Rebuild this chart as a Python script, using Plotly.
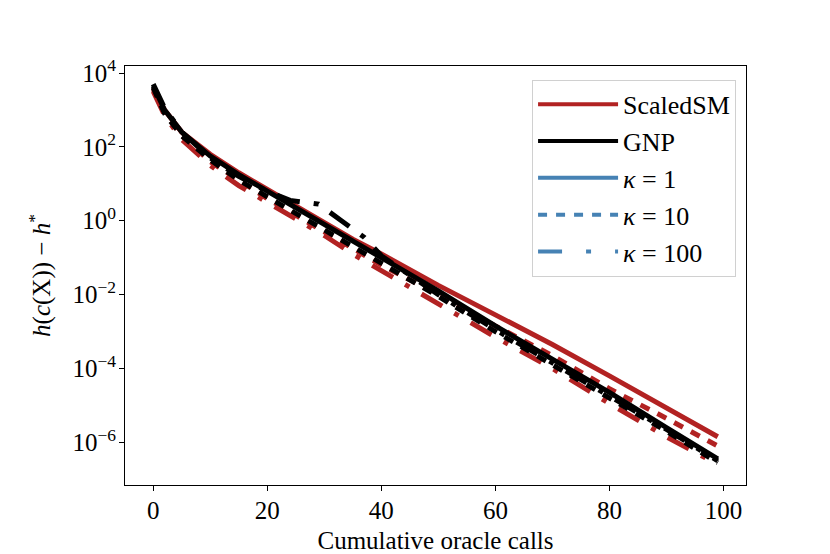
import plotly.graph_objects as go

# oracle calls at which values were read
calls = [0, 2, 5, 10, 15, 20, 25, 30, 35, 40, 50, 60, 70, 80, 90, 99]
calls_gnp100 = [0, 2, 5, 10, 15, 20, 24, 29, 33, 37, 40, 50, 60, 70, 80, 90, 99]

# log10(h(c(X)) - h*)
scaled_k1 = [3.55, 3.0, 2.4, 1.8, 1.3, 0.85, 0.4, -0.05, -0.5, -0.9, -1.75, -2.55, -3.35, -4.2, -5.05, -5.85]
scaled_k10 = [3.6, 2.95, 2.3, 1.6, 1.1, 0.6, 0.15, -0.3, -0.75, -1.2, -2.0, -2.85, -3.65, -4.55, -5.35, -6.1]
scaled_k100 = [3.5, 2.85, 2.2, 1.5, 0.95, 0.5, 0.05, -0.4, -0.9, -1.35, -2.25, -3.15, -4.0, -4.95, -5.85, -6.6]
gnp_k1 = [3.65, 3.0, 2.4, 1.75, 1.25, 0.8, 0.35, -0.1, -0.55, -1.0, -1.9, -2.85, -3.75, -4.65, -5.6, -6.45]
gnp_k10 = [3.6, 2.9, 2.3, 1.65, 1.1, 0.65, 0.2, -0.25, -0.7, -1.15, -2.05, -3.0, -3.9, -4.8, -5.7, -6.55]
gnp_k100 = [3.7, 3.05, 2.4, 1.7, 1.2, 0.8, 0.55, 0.45, 0.0, -0.45, -0.95, -2.0, -2.95, -3.85, -4.75, -5.65, -6.5]

RED = "#B22222"
BLACK = "#000000"
BLUE = "#4682B4"
DASHES = {1: "solid", 10: "10px,9px", 100: "24px,14px,5px,14px"}
FONT = "Liberation Serif, DejaVu Serif, serif"
FS = 25

series = [
    ("ScaledSM", 1, calls, scaled_k1, RED),
    ("ScaledSM", 10, calls, scaled_k10, RED),
    ("ScaledSM", 100, calls, scaled_k100, RED),
    ("GNP", 1, calls, gnp_k1, BLACK),
    ("GNP", 10, calls, gnp_k10, BLACK),
    ("GNP", 100, calls_gnp100, gnp_k100, BLACK),
]

fig = go.Figure()
for name, kappa, xs, logs, color in series:
    fig.add_trace(go.Scatter(
        x=xs, y=[10 ** v for v in logs],
        mode="lines", showlegend=False,
        line=dict(color=color, width=5, dash=DASHES[kappa]),
    ))

# legend-only entries
legend_items = [
    ("ScaledSM", RED, "solid"),
    ("GNP", BLACK, "solid"),
    ("<i>κ</i> = 1", BLUE, DASHES[1]),
    ("<i>κ</i> = 10", BLUE, "9px,9px"),
    ("<i>κ</i> = 100", BLUE, "24px,24px,5px,24px"),
]
for i, (label, color, dash) in enumerate(legend_items):
    fig.add_trace(go.Scatter(
        x=[None], y=[None], mode="lines", name=label,
        legendgroup=f"g{i}",
        line=dict(color=color, width=4, dash=dash),
    ))

axis_common = dict(
    showline=True, linecolor="black", linewidth=1, mirror=True,
    ticks="outside", ticklen=5, tickwidth=1, tickcolor="black",
    showgrid=False, zeroline=False, automargin=False,
    tickfont=dict(family=FONT, size=FS, color="black"),
)

# page body has an 8px default margin, so the plot box is shifted back by 8px
fig.update_layout(
    width=830, height=554,
    template="plotly_white",
    plot_bgcolor="white", paper_bgcolor="white",
    margin=dict(l=117, r=92, t=58, b=77),
    font=dict(family=FONT, size=FS, color="black"),
    xaxis=dict(
        range=[-4.95, 103.95],
        tickvals=[0, 20, 40, 60, 80, 100],
        ticklabelstandoff=-2,
        title=dict(text="Cumulative oracle calls", standoff=8,
                   font=dict(family=FONT, size=FS)),
        **axis_common,
    ),
    yaxis=dict(
        type="log",
        range=[-7.156, 4.19],
        tickvals=[1e-6, 1e-4, 1e-2, 1, 1e2, 1e4],
        ticktext=["10<sup>−6</sup>", "10<sup>−4</sup>", "10<sup>−2</sup>",
                  "10<sup>0</sup>", "10<sup>2</sup>", "10<sup>4</sup>"],
        ticklabelstandoff=-2,
        title=dict(text="<i>h</i>(<i>c</i>(X)) − <i>h</i><sup>*</sup>", standoff=14,
                   font=dict(family=FONT, size=FS)),
        **axis_common,
    ),
    legend=dict(
        x=0.984, y=0.967, xanchor="right", yanchor="top",
        bgcolor="white", bordercolor="#d0d0d0", borderwidth=1,
        font=dict(family=FONT, size=26, color="black"),
        traceorder="grouped", tracegroupgap=0, itemwidth=80,
    ),
)

fig.write_html("out.html")
